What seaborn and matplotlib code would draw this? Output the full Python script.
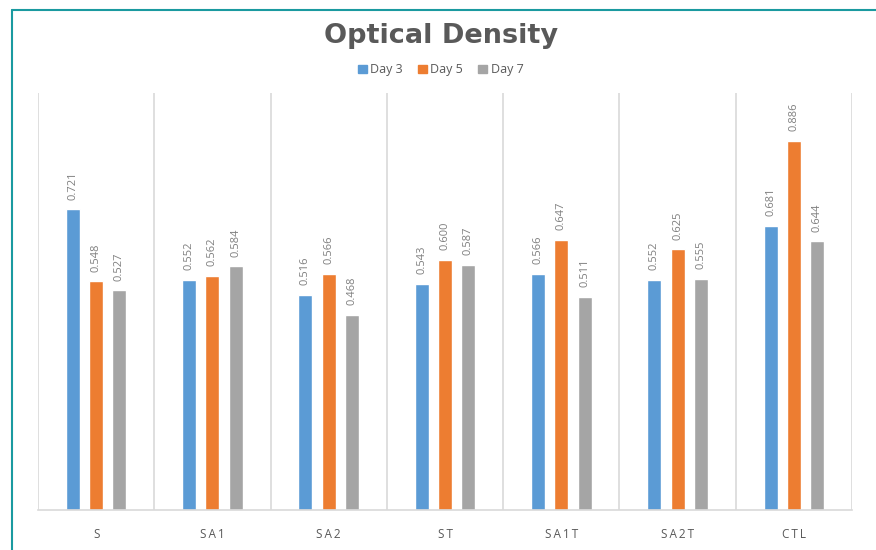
import matplotlib
matplotlib.use("Agg")
import matplotlib.pyplot as plt
from matplotlib.lines import Line2D
import seaborn as sns
import pandas as pd
import numpy as np

categories = ["S", "SA1", "SA2", "ST", "SA1T", "SA2T", "CTL"]
day3 = [0.721, 0.552, 0.516, 0.543, 0.566, 0.552, 0.681]
day5 = [0.548, 0.562, 0.566, 0.600, 0.647, 0.625, 0.886]
day7 = [0.527, 0.584, 0.468, 0.587, 0.511, 0.555, 0.644]
series_names = ["Day 3", "Day 5", "Day 7"]
colors = ["#5B9BD5", "#ED7D31", "#A5A5A5"]

rows = []
for name, vals in zip(series_names, [day3, day5, day7]):
    for c, v in zip(categories, vals):
        rows.append({"Sample": c, "Series": name, "OD": v})
df = pd.DataFrame(rows)

sns.set_theme(style="white")
plt.rcParams["font.family"] = ["Open Sans", "DejaVu Sans"]

fig = plt.figure(figsize=(8.76, 5.5), dpi=100)
ax = fig.add_axes([38 / 876, 40 / 550, (852 - 38) / 876, (510 - 93) / 550])

sns.barplot(data=df, x="Sample", y="OD", hue="Series", order=categories,
            hue_order=series_names, palette=colors, width=0.6, gap=0.4,
            saturation=1, errorbar=None, ax=ax, legend=False)

ax.set_ylim(0, 1.0)
ax.set_xlim(-0.5, len(categories) - 0.5)
ax.set_xlabel("")
ax.set_ylabel("")
ax.set_yticks([])

# value labels above each bar
for container in ax.containers:
    for bar in container:
        h = bar.get_height()
        ax.annotate(f"{h:.3f}", (bar.get_x() + bar.get_width() / 2, h),
                    xytext=(0, 7), textcoords="offset points", rotation=90,
                    ha="center", va="bottom", fontsize=8, color="#7F7F7F")

# spaced-out category names
ax.set_xticks(range(len(categories)))
ax.set_xticklabels(["\u2009".join(c) for c in categories])

# vertical separators between categories
ax.set_xticks(np.arange(-0.5, len(categories)), minor=True)
ax.grid(which="minor", axis="x", color="#D9D9D9", linewidth=1.2)
ax.tick_params(axis="x", which="both", length=0, colors="#595959",
               labelsize=8.5, pad=13)
for s in ["top", "left", "right"]:
    ax.spines[s].set_visible(False)
ax.spines["bottom"].set_color("#D9D9D9")
ax.spines["bottom"].set_linewidth(1.2)

fig.text(0.503, 1 - 36 / 550, "Optical Density", ha="center", va="center",
         fontsize=19.5, fontweight="bold", color="#595959",
         family=["DejaVu Sans"])

handles = [plt.Rectangle((0, 0), 1, 1, color=c) for c in colors]
fig.legend(handles, series_names, loc="center", bbox_to_anchor=(0.503, 1 - 70 / 550),
           ncol=3, frameon=False, fontsize=9, handlelength=0.7, handleheight=0.7,
           handletextpad=0.3, columnspacing=1.2, labelcolor="#595959")

# teal frame along the top and left edges
fig.add_artist(Line2D([12 / 876, 1.0], [1 - 10 / 550, 1 - 10 / 550],
                      transform=fig.transFigure, color="#1A9AA0", linewidth=1.5))
fig.add_artist(Line2D([12 / 876, 12 / 876], [0, 1 - 10 / 550],
                      transform=fig.transFigure, color="#1A9AA0", linewidth=1.5))

fig.savefig("out.png", dpi=100)
